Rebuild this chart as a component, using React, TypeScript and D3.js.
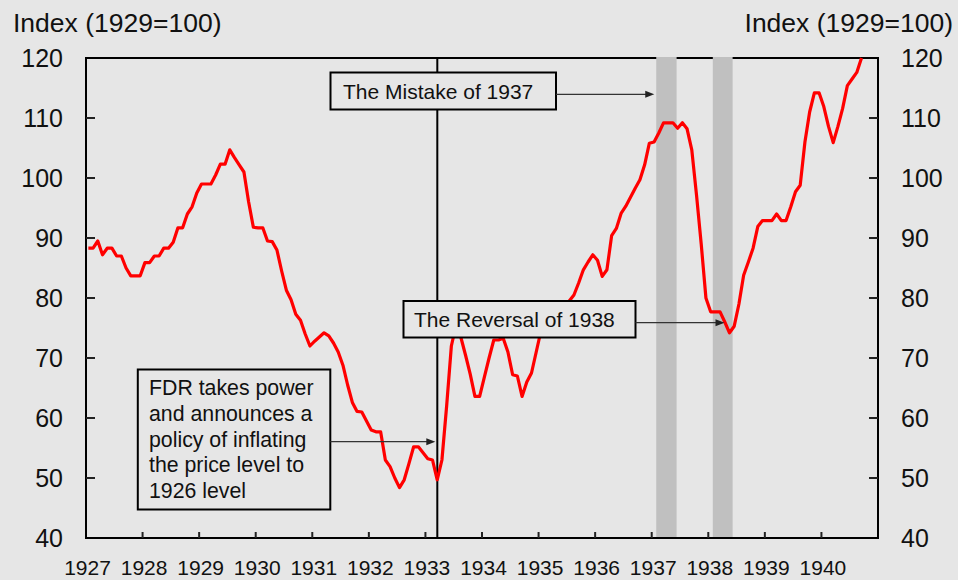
import React from "react";
import * as d3 from "d3";

// ---- Data ----
const startYear = 1927;
// Monthly index (1929=100), Jan 1927 onward
const priceIndex: number[] = [
  88.3, 88.3, 89.5, 87.2, 88.3, 88.3, 87.0, 87.0, 85.0, 83.7, 83.7, 83.7,
  85.9, 85.9, 87.0, 87.0, 88.3, 88.3, 89.3, 91.7, 91.7, 94.0, 95.2, 97.5,
  99.0, 99.0, 99.0, 100.5, 102.3, 102.3, 104.7, 103.4, 102.2, 101.0, 96.0, 91.8,
  91.7, 91.7, 89.5, 89.4, 88.0, 84.5, 81.3, 79.7, 77.3, 76.3, 74.0, 72.0,
  72.8, 73.5, 74.2, 73.7, 72.5, 71.0, 68.8, 65.5, 62.6, 61.1, 61.0, 59.5,
  58.0, 57.7, 57.7, 53.0, 51.9, 50.0, 48.4, 49.7, 52.4, 55.2, 55.2, 54.2,
  53.2, 53.0, 49.7, 53.0, 62.0, 72.0, 75.5, 73.5, 70.5, 67.3, 63.6, 63.6,
  66.8, 70.0, 73.0, 73.0, 73.3, 71.0, 67.2, 67.0, 63.6, 66.0, 67.5, 71.0,
  74.5, 76.0, 77.0, 77.5, 78.0, 78.5, 79.5, 80.5, 82.5, 84.7, 86.0, 87.2,
  86.3, 83.6, 84.7, 90.4, 91.6, 94.1, 95.3, 96.8, 98.3, 99.7, 102.2, 105.8,
  106.0, 107.5, 109.2, 109.2, 109.2, 108.3, 109.2, 108.2, 104.7, 97.2, 89.0, 80.0,
  77.7, 77.7, 77.7, 76.0, 74.2, 75.3, 79.0, 83.8, 86.0, 88.3, 91.9, 92.9,
  92.9, 92.9, 94.0, 92.9, 92.9, 95.2, 97.7, 98.8, 106.0, 111.0, 114.2, 114.2,
  111.9, 108.6, 105.9, 108.6, 111.6, 115.4, 116.5, 117.6, 120.0,
];
const yearTicks = [1927, 1928, 1929, 1930, 1931, 1932, 1933, 1934, 1935, 1936, 1937, 1938, 1939, 1940];
const valueTicks = [40, 50, 60, 70, 80, 90, 100, 110, 120];
const shadedPeriods: [number, number][] = [
  [1937.08, 1937.44],
  [1938.08, 1938.43],
];
const fdrDate = 1933.21;
const axisTitle = "Index (1929=100)";
const mistakeLabel = "The Mistake of 1937";
const reversalLabel = "The Reversal of 1938";
const fdrLines = [
  "FDR takes power",
  "and announces a",
  "policy of inflating",
  "the price level to",
  "1926 level",
];

const W = 958;
const H = 580;
const FONT = "'Liberation Sans', Arial, Helvetica, sans-serif";
const BG = "#e6e6e6";
const TXT = "#111";

export default function App() {
  const x = d3.scaleLinear().domain([1927, 1941]).range([86, 878]);
  const y = d3.scaleLinear().domain([40, 120]).range([538, 58]);

  const pts = priceIndex.map((v, i) => ({ t: startYear + (i + 0.5) / 12, v }));
  const line = d3
    .line<{ t: number; v: number }>()
    .x((d) => x(d.t))
    .y((d) => y(d.v));

  const [x0, x1] = x.range();
  const [yb, yt] = y.range();

  const arrow = (xa: number, xb: number, yy: number, key: string) => (
    <g key={key}>
      <line x1={xa} x2={xb - 7} y1={yy} y2={yy} stroke="#333" strokeWidth={1.3} />
      <path d={`M${xb},${yy} L${xb - 9},${yy - 3.5} L${xb - 9},${yy + 3.5} Z`} fill="#222" />
    </g>
  );

  return (
    <svg
      width={W}
      height={H}
      style={{ position: "absolute", left: 0, top: 0, background: BG }}
      fontFamily={FONT}
    >
      <rect x={0} y={0} width={W} height={H} fill={BG} />

      {/* axis titles */}
      <text x={13} y={32} fontSize={26.5} fill={TXT}>
        {axisTitle}
      </text>
      <text x={953} y={32} fontSize={26.5} fill={TXT} textAnchor="end">
        {axisTitle}
      </text>

      {/* frame */}
      <rect x={x0} y={yt} width={x1 - x0} height={yb - yt} fill="none" stroke="#000" strokeWidth={2} />

      {/* y ticks & labels */}
      {valueTicks.map((v) => (
        <g key={"yt" + v}>
          {v > 40 && v < 120 && (
            <>
              <line x1={x0} x2={x0 + 9} y1={y(v)} y2={y(v)} stroke="#222" strokeWidth={2} />
              <line x1={x1 - 9} x2={x1} y1={y(v)} y2={y(v)} stroke="#222" strokeWidth={2} />
            </>
          )}
          <text x={63} y={y(v)} dy="0.36em" fontSize={25} textAnchor="end" fill={TXT}>
            {v}
          </text>
          <text x={901} y={y(v)} dy="0.36em" fontSize={25} textAnchor="start" fill={TXT}>
            {v}
          </text>
        </g>
      ))}

      {/* x ticks & labels */}
      {yearTicks.map((yr) => (
        <g key={"xt" + yr}>
          {yr > 1927 && (
            <line x1={x(yr)} x2={x(yr)} y1={yb} y2={yb - 6} stroke="#222" strokeWidth={2} />
          )}
          <text x={x(yr) + 1.5} y={575} fontSize={21} textAnchor="middle" fill={TXT}>
            {yr}
          </text>
        </g>
      ))}

      {/* shaded periods */}
      {shadedPeriods.map(([a, b], i) => (
        <rect key={"sh" + i} x={x(a)} y={yt - 1} width={x(b) - x(a)} height={yb - yt} fill="#c0c0c0" />
      ))}

      {/* FDR vertical line */}
      <line x1={x(fdrDate)} x2={x(fdrDate)} y1={yt} y2={yb} stroke="#000" strokeWidth={2} />

      {/* data line */}
      <path d={line(pts) ?? ""} fill="none" stroke="#ff0000" strokeWidth={3.2} strokeLinejoin="round" />

      {/* annotations */}
      <g>
        <rect x={330.5} y={72.5} width={225.5} height={37} fill={BG} stroke="#000" strokeWidth={2} />
        <text x={343} y={91} dy="0.36em" fontSize={21} fill={TXT}>
          {mistakeLabel}
        </text>
        {arrow(556, x(shadedPeriods[0][0]) - 2, 94.3, "a1")}
      </g>
      <g>
        <rect x={403.5} y={301} width={232} height={36.5} fill={BG} stroke="#000" strokeWidth={2} />
        <text x={414} y={319.5} dy="0.36em" fontSize={21} fill={TXT}>
          {reversalLabel}
        </text>
        {arrow(635.5, 724.5, 322.7, "a2")}
      </g>
      <g>
        <rect x={137.8} y={369.5} width={192.5} height={140} fill={BG} stroke="#000" strokeWidth={2} />
        {fdrLines.map((s, i) => (
          <text key={"f" + i} x={149} y={395 + i * 25.8} fontSize={21.3} fill={TXT}>
            {s}
          </text>
        ))}
        {arrow(330.3, x(fdrDate) - 2, 441.7, "a3")}
      </g>
    </svg>
  );
}
